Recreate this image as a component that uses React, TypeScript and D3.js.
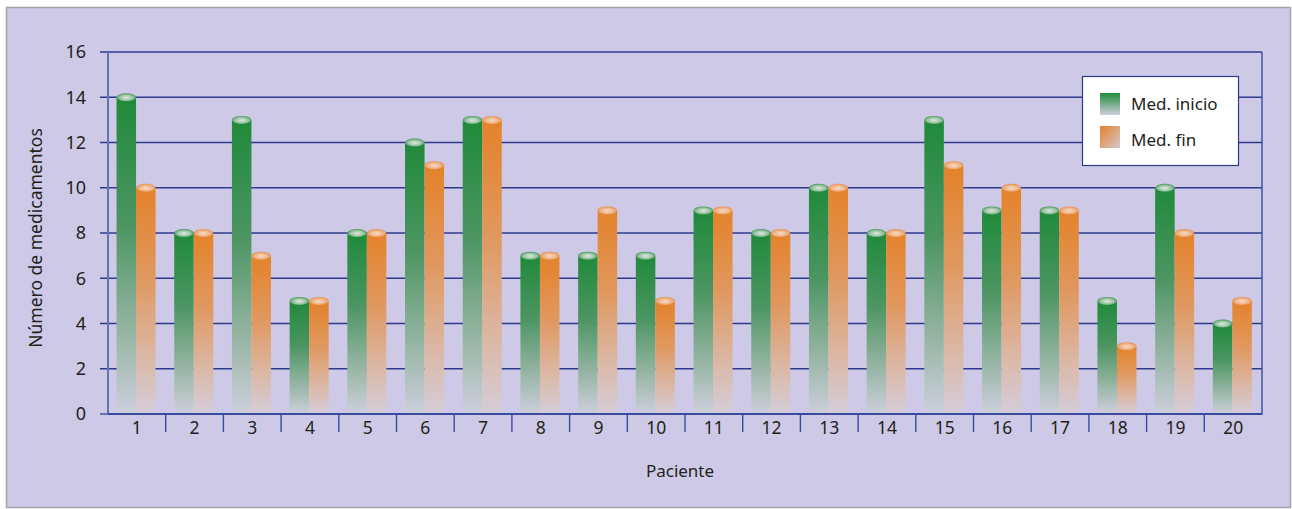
import React from "react";
import * as d3 from "d3";

const patients = ["1","2","3","4","5","6","7","8","9","10","11","12","13","14","15","16","17","18","19","20"];
const medInicio = [14, 8, 13, 5, 8, 12, 13, 7, 7, 7, 9, 8, 10, 8, 13, 9, 9, 5, 10, 4];
const medFin = [10, 8, 7, 5, 8, 11, 13, 7, 9, 5, 9, 8, 10, 8, 11, 10, 9, 3, 8, 5];
const yTicks = [0, 2, 4, 6, 8, 10, 12, 14, 16];
const seriesNames = ["Med. inicio", "Med. fin"];

const W = 1292;
const H = 509;
const FONT = "'Noto Sans', 'DejaVu Sans', sans-serif";

export default function App() {
  const left = 108, right = 1262, top = 52, bottom = 414;
  const x = d3.scaleBand<string>().domain(patients).range([left, right]).paddingInner(0).paddingOuter(0);
  const y = d3.scaleLinear().domain([0, 16]).range([bottom, top]);
  const bw = x.bandwidth();
  const barW = bw * 0.338;
  const offset = bw * 0.148;
  const ry = 4;

  const series = [
    { name: seriesNames[0], values: medInicio, body: "gBody", cap: "gCap", sw: "gSw" },
    { name: seriesNames[1], values: medFin, body: "oBody", cap: "oCap", sw: "oSw" },
  ];

  return (
    <div style={{ position: "absolute", left: 0, top: 0 }}>
      <svg width={W} height={H} style={{ display: "block" }}>
        <defs>
          <linearGradient id="gBody" x1="0" y1="0" x2="0" y2="1">
            <stop offset="0%" stopColor="#1f8a3a" />
            <stop offset="40%" stopColor="#4c9562" />
            <stop offset="75%" stopColor="#98b6a5" />
            <stop offset="100%" stopColor="#cdcfdc" />
          </linearGradient>
          <linearGradient id="oBody" x1="0" y1="0" x2="0" y2="1">
            <stop offset="0%" stopColor="#e4822a" />
            <stop offset="40%" stopColor="#e0985f" />
            <stop offset="75%" stopColor="#dbb8a6" />
            <stop offset="100%" stopColor="#d5cdda" />
          </linearGradient>
          <radialGradient id="gCap" cx="0.5" cy="0.55" r="0.6">
            <stop offset="0%" stopColor="#dfeadf" />
            <stop offset="55%" stopColor="#9cc4a4" />
            <stop offset="100%" stopColor="#2b8c45" />
          </radialGradient>
          <radialGradient id="oCap" cx="0.5" cy="0.55" r="0.6">
            <stop offset="0%" stopColor="#f7dcc4" />
            <stop offset="55%" stopColor="#efb58a" />
            <stop offset="100%" stopColor="#e4843a" />
          </radialGradient>
          <linearGradient id="gSw" x1="0" y1="0" x2="0" y2="1">
            <stop offset="0%" stopColor="#1f8a3a" />
            <stop offset="100%" stopColor="#cfd0dc" />
          </linearGradient>
          <linearGradient id="oSw" x1="0" y1="0" x2="1" y2="1">
            <stop offset="0%" stopColor="#e4822a" />
            <stop offset="100%" stopColor="#d6c6cc" />
          </linearGradient>
        </defs>

        <rect x={0} y={0} width={W} height={H} fill="#ffffff" />
        <rect x={6.5} y={7.5} width={1284} height={500} fill="#cdc9e6" stroke="#a3a3a8" strokeWidth={1.5} />

        {/* horizontal grid lines with short tick stubs */}
        {yTicks.filter((t) => t > 0).map((t) => (
          <line key={"g" + t} x1={left - 8} x2={right} y1={y(t)} y2={y(t)} stroke="#2e3b8c" strokeWidth={1.4} />
        ))}
        <line x1={left - 8} x2={left} y1={y(0)} y2={y(0)} stroke="#3a4aa0" strokeWidth={1.4} />

        {/* bars */}
        {patients.map((p, i) => (
          <g key={p}>
            {series.map((s, k) => {
              const x0 = (x(p) as number) + offset + k * barW;
              const yt = y(s.values[i]);
              return (
                <g key={s.name}>
                  <rect x={x0} y={yt} width={barW} height={bottom - yt} fill={`url(#${s.body})`} />
                  <ellipse cx={x0 + barW / 2} cy={yt} rx={barW / 2} ry={ry} fill={`url(#${s.cap})`} />
                </g>
              );
            })}
          </g>
        ))}

        {/* axes */}
        <line x1={left} x2={left} y1={top} y2={bottom} stroke="#6572b5" strokeWidth={2} />
        <line x1={right} x2={right} y1={top} y2={bottom + 1} stroke="#3a4aa0" strokeWidth={1.4} />
        <line x1={left} x2={right} y1={bottom} y2={bottom} stroke="#3a4aa0" strokeWidth={1.8} />
        {patients.slice(1).map((p) => (
          <line key={"t" + p} x1={x(p) as number} x2={x(p) as number} y1={bottom} y2={bottom + 18} stroke="#3a4aa0" strokeWidth={1.4} />
        ))}

        {/* tick labels */}
        {yTicks.map((t) => (
          <text key={"yl" + t} x={86} y={y(t)} dy="0.36em" textAnchor="end" fontFamily={FONT} fontSize={18} fill="#231f20">
            {t}
          </text>
        ))}
        {patients.map((p) => (
          <text key={"xl" + p} x={(x(p) as number) + bw / 2} y={434} textAnchor="middle" fontFamily={FONT} fontSize={17.5} fill="#231f20">
            {p}
          </text>
        ))}

        {/* axis titles */}
        <text x={680} y={477} textAnchor="middle" fontFamily={FONT} fontSize={17} fill="#231f20">
          Paciente
        </text>
        <text transform={`translate(42,${(top + bottom) / 2 + 5}) rotate(-90)`} textAnchor="middle" fontFamily={FONT} fontSize={17.5} fill="#231f20">
          Número de medicamentos
        </text>

        {/* legend */}
        <rect x={1082.5} y={76.5} width={156} height={89} fill="#ffffff" stroke="#2e3b8c" strokeWidth={1.2} />
        {series.map((s, k) => (
          <g key={"lg" + k}>
            <rect x={1100} y={93 + k * 33} width={20} height={22} fill={`url(#${s.sw})`} />
            <text x={1131} y={104 + k * 36} dy="0.35em" fontFamily={FONT} fontSize={17} fill="#231f20">
              {s.name}
            </text>
          </g>
        ))}
      </svg>
    </div>
  );
}
